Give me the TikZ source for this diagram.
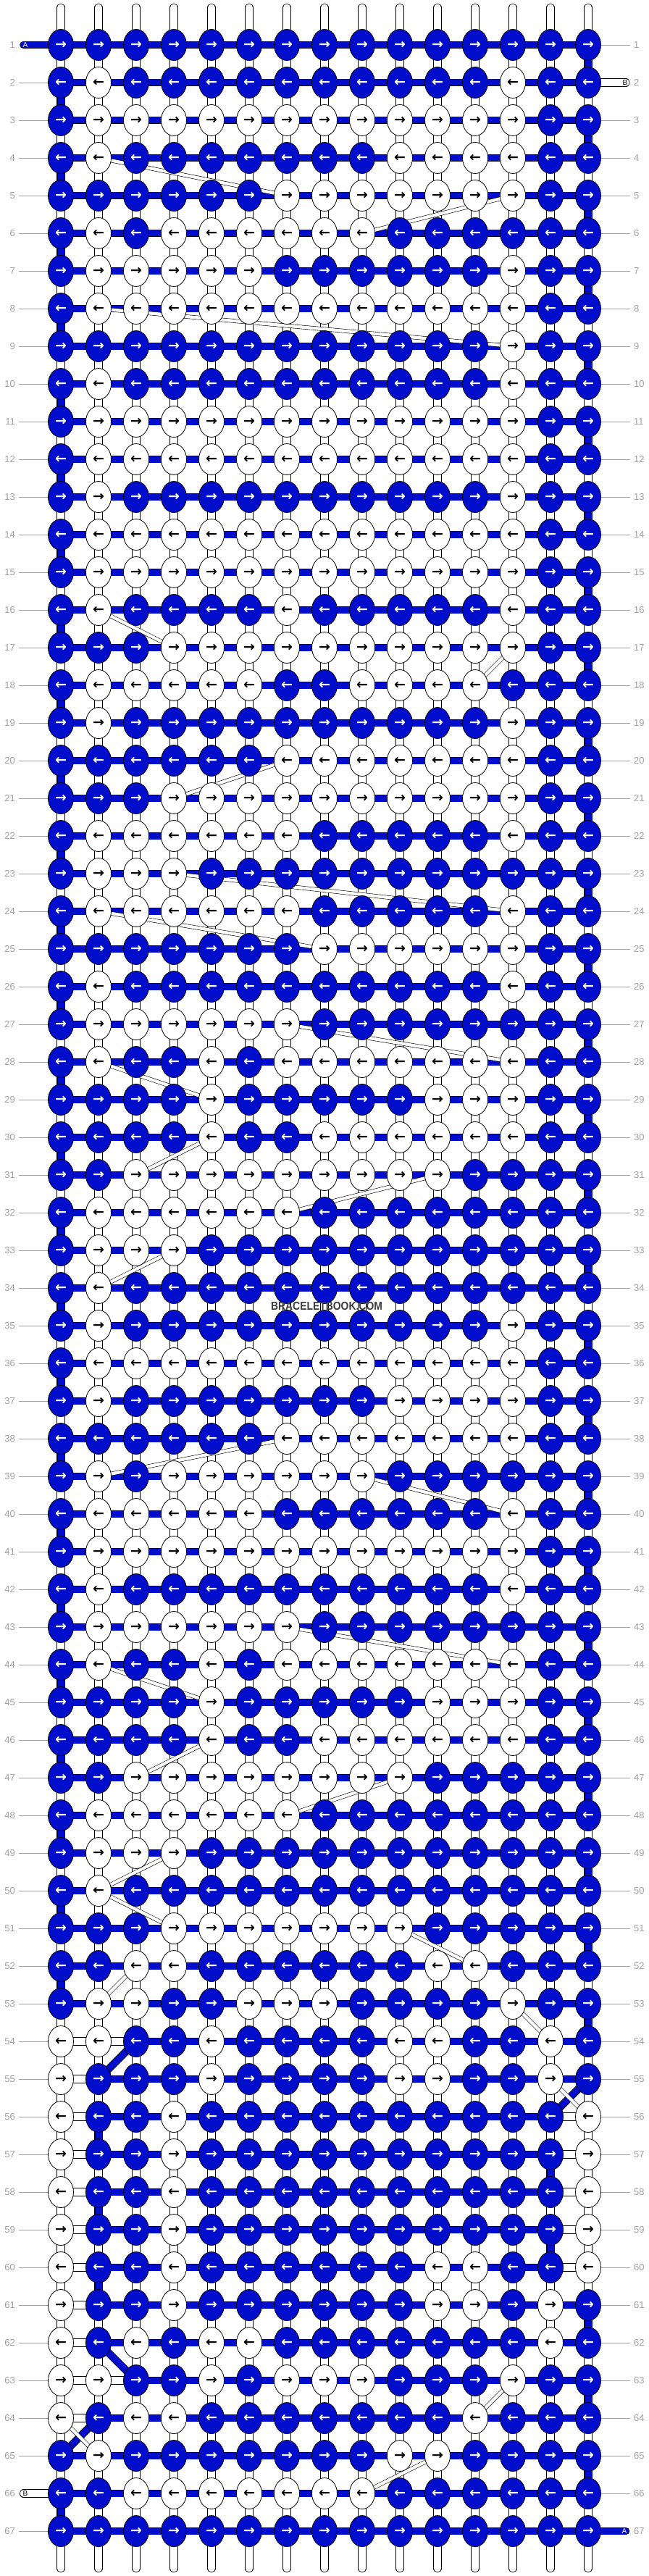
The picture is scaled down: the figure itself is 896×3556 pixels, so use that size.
\documentclass[tikz,border=0pt]{standalone}
\usepackage{fontspec}
\setmainfont{Liberation Sans}
\newfontfamily\arrowfont{DejaVu Sans}
\usetikzlibrary{shapes.geometric,backgrounds}
\definecolor{knotblue}{RGB}{0,14,204}
\definecolor{labelgray}{RGB}{160,160,160}
\definecolor{warpgray}{RGB}{175,175,175}
\definecolor{markgray}{RGB}{60,60,60}

\begin{document}
\begin{tikzpicture}[x=1pt, y=-1pt,
  knot/.style={ellipse, draw=black, line width=0.8pt, minimum width=35pt,
    minimum height=43pt, inner sep=0pt, font=\arrowfont\bfseries\fontsize{19}{19}\selectfont},
  blueknot/.style={knot, fill=knotblue, text=white},
  whiteknot/.style={knot, fill=white, text=black},
  weft/.style={line width=0.8pt, double=knotblue, double distance=9pt},
  warp/.style={line width=0.8pt, double=white, double distance=9.6pt},
  warpcore/.style={line width=0.5pt, draw=warpgray, double=white, double distance=3.4pt},
  cross/.style={line width=0.6pt, double=white, double distance=4.4pt},
  rowlabel/.style={text=labelgray, font=\fontsize{13}{13}\selectfont, inner sep=0pt},
  tick/.style={draw=labelgray, line width=0.7pt},
  tag/.style={font=\fontsize{10}{10}\selectfont, inner sep=0pt}]

\useasboundingbox (0,0) rectangle (896,3556);

% knots, row by row (1 = blue, 0 = white)
\foreach \pat [count=\r] in {
  {1,1,1,1,1,1,1,1,1,1,1,1,1,1,1},
  {1,0,1,1,1,1,1,1,1,1,1,1,0,1,1},
  {1,0,0,0,0,0,0,0,0,0,0,0,0,1,1},
  {1,0,1,1,1,1,1,1,1,0,0,0,0,1,1},
  {1,1,1,1,1,1,0,0,0,0,0,0,0,1,1},
  {1,0,1,0,0,0,0,0,0,1,1,1,1,1,1},
  {1,0,0,0,0,0,1,1,1,1,1,1,0,1,1},
  {1,0,0,0,0,0,0,0,0,0,0,0,0,1,1},
  {1,1,1,1,1,1,1,1,1,1,1,1,0,1,1},
  {1,0,1,1,1,1,1,1,1,1,1,1,0,1,1},
  {1,0,0,0,0,0,0,0,0,0,0,0,0,1,1},
  {1,0,0,0,0,0,0,0,0,0,0,0,0,1,1},
  {1,0,1,1,1,1,1,1,1,1,1,1,0,1,1},
  {1,0,0,0,0,0,0,0,0,0,0,0,0,1,1},
  {1,0,0,0,0,0,0,0,0,0,0,0,0,1,1},
  {1,0,1,1,1,1,0,1,1,1,1,1,0,1,1},
  {1,1,1,0,0,0,0,0,0,0,0,0,0,1,1},
  {1,0,0,0,0,0,1,1,0,0,0,0,1,1,1},
  {1,0,1,1,1,1,1,1,1,1,1,1,0,1,1},
  {1,1,1,1,1,1,0,0,0,0,0,0,0,1,1},
  {1,1,1,0,0,0,0,0,0,0,0,0,0,1,1},
  {1,0,0,0,0,0,0,1,1,1,1,1,0,1,1},
  {1,0,0,0,1,1,1,1,1,1,1,1,1,1,1},
  {1,0,0,0,0,0,0,1,1,1,1,1,0,1,1},
  {1,1,1,1,1,1,1,0,0,0,0,0,0,1,1},
  {1,0,1,1,1,1,1,1,1,1,1,1,0,1,1},
  {1,0,0,0,0,0,0,1,1,1,1,1,1,1,1},
  {1,0,1,1,0,1,0,0,0,0,0,0,0,1,1},
  {1,1,1,1,0,1,1,1,1,1,0,0,0,1,1},
  {1,1,1,1,0,1,1,0,0,0,0,0,0,1,1},
  {1,1,0,0,0,0,0,0,0,0,0,1,1,1,1},
  {1,0,0,0,0,0,0,1,1,1,1,1,1,1,1},
  {1,0,0,0,1,1,1,1,1,1,1,1,1,1,1},
  {1,0,1,1,1,1,1,1,1,1,1,1,1,1,1},
  {1,0,1,1,1,1,1,1,1,1,1,1,0,1,1},
  {1,0,0,0,0,0,0,0,0,0,0,0,0,1,1},
  {1,0,1,1,1,1,1,1,1,0,0,0,0,1,1},
  {1,1,1,1,1,1,0,0,0,0,0,0,0,1,1},
  {1,0,1,0,0,0,0,0,0,1,1,1,1,1,1},
  {1,0,0,0,0,0,1,1,1,1,1,1,0,1,1},
  {1,0,0,0,0,0,0,0,0,0,0,0,0,1,1},
  {1,0,1,1,1,1,1,1,1,1,1,1,0,1,1},
  {1,0,0,0,0,0,0,1,1,1,1,1,1,1,1},
  {1,0,1,1,0,1,0,0,0,0,0,0,0,1,1},
  {1,1,1,1,0,1,1,1,1,1,0,0,0,1,1},
  {1,1,1,1,0,1,1,0,0,0,0,0,0,1,1},
  {1,1,0,0,0,0,0,0,0,0,1,1,1,1,1},
  {1,0,0,0,0,0,0,1,1,1,1,1,1,1,1},
  {1,0,0,0,1,1,1,1,1,1,1,1,1,1,1},
  {1,0,1,1,1,1,1,1,1,1,1,1,1,1,1},
  {1,1,1,0,0,0,0,0,0,0,1,1,1,1,1},
  {1,1,0,0,1,1,1,1,1,1,0,0,1,1,1},
  {1,0,0,1,1,0,0,0,1,1,1,1,0,1,1},
  {0,0,1,1,0,1,1,1,1,0,0,1,1,0,1},
  {0,1,1,1,0,1,1,1,1,0,0,1,1,0,1},
  {0,1,1,0,1,1,1,1,1,1,1,1,1,1,0},
  {0,1,1,0,1,1,1,1,1,1,1,1,1,1,0},
  {0,1,1,0,1,1,1,1,1,1,1,1,1,1,0},
  {0,1,1,0,1,1,1,1,1,1,1,1,1,1,0},
  {0,1,1,0,1,1,1,1,1,1,0,0,1,1,0},
  {0,1,1,0,1,1,1,1,1,1,0,0,1,0,1},
  {0,1,0,1,0,0,1,1,1,1,1,1,1,0,1},
  {0,0,1,1,0,1,0,0,0,1,1,1,0,1,1},
  {0,1,0,0,1,1,1,1,1,1,1,0,1,1,1},
  {1,0,1,1,1,1,1,1,1,0,0,1,1,1,1},
  {1,1,0,0,0,0,0,0,0,1,1,1,1,1,1},
  {1,1,1,1,1,1,1,1,1,1,1,1,1,1,1}}{
  \ifodd\r \def\dir{→}\else \def\dir{←}\fi
  \foreach \v [count=\c] in \pat {
    \ifnum\v=1
      \node[blueknot] (k\r_\c) at ({84+52*(\c-1)},{62+52*(\r-1)}) {\dir};
    \else
      \node[whiteknot] (k\r_\c) at ({84+52*(\c-1)},{62+52*(\r-1)}) {\dir};
    \fi
  }
}

\begin{scope}[on background layer]
  % warp strands
  \foreach \c in {1,...,15} {
    \coordinate (top\c) at ({84+52*(\c-1)},10.5);
    \coordinate (bot\c) at ({84+52*(\c-1)},3545.5);
    \draw[warp, line cap=round] (top\c) -- (k1_\c.center);
    \draw[warpcore, line cap=round] (top\c) -- (k1_\c.center);
    \draw[warp, line cap=round] (k67_\c.center) -- (bot\c);
    \draw[warpcore, line cap=round] (k67_\c.center) -- (bot\c);
    \foreach \r in {1,...,66} {
      \pgfmathtruncatemacro\rnext{\r+1}
      \draw[warp] (k\r_\c.center) -- (k\rnext_\c.center);
      \draw[warpcore] (k\r_\c.center) -- (k\rnext_\c.center);
    }
  }
  % weft
  \foreach \r in {1,...,53,65,66,67} {
    \foreach \c in {1,...,14} {
      \pgfmathtruncatemacro\cnext{\c+1}
      \draw[weft] (k\r_\c.center) -- (k\r_\cnext.center);
    }
  }
  \foreach \r/\lo/\hi in {54/3/15,55/2/15,56/2/14,57/2/14,58/2/14,59/2/14,
                          60/2/14,61/2/15,62/2/15,63/3/15,64/2/15} {
    \foreach \c in {1,...,14} {
      \pgfmathtruncatemacro\cnext{\c+1}
      \ifnum\c<\lo
        \draw[warp] (k\r_\c.center) -- (k\r_\cnext.center);
      \else\ifnum\cnext>\hi
        \draw[warp] (k\r_\c.center) -- (k\r_\cnext.center);
      \else
        \draw[weft] (k\r_\c.center) -- (k\r_\cnext.center);
      \fi\fi
    }
  }
  % turns at the ends of the rows
  \foreach \r/\c in {2/1,4/1,6/1,8/1,10/1,12/1,14/1,16/1,18/1,20/1,22/1,24/1,
      26/1,28/1,30/1,32/1,34/1,36/1,38/1,40/1,42/1,44/1,46/1,48/1,50/1,52/1,
      66/1,1/15,3/15,5/15,7/15,9/15,11/15,13/15,15/15,17/15,19/15,21/15,23/15,
      25/15,27/15,29/15,31/15,33/15,35/15,37/15,39/15,41/15,43/15,45/15,47/15,
      49/15,51/15,53/15,61/15,63/15,65/15,56/2,58/2,60/2,57/14,59/14} {
    \pgfmathtruncatemacro\rnext{\r+1}
    \draw[weft] (k\r_\c.center) -- (k\rnext_\c.center);
  }
  \draw[weft] (k54_3.center) -- (k55_2.center);
  \draw[weft] (k55_15.center) -- (k56_14.center);
  \draw[weft] (k62_2.center) -- (k63_3.center);
  \draw[weft] (k64_2.center) -- (k65_1.center);
  % crossings
  \foreach \a/\b in {4_2/5_7,5_13/6_9,8_2/9_13,16_2/17_4,17_13/18_12,20_7/21_4,
      23_4/24_13,24_2/25_8,27_7/28_13,28_2/29_5,30_5/31_3,31_11/32_7,33_4/34_2,
      38_7/39_2,39_9/40_13,43_7/44_13,44_2/45_5,46_5/47_3,47_10/48_7,49_4/50_2,
      50_2/51_4,51_10/52_12,52_3/53_2,53_13/54_14,55_14/56_15,63_13/64_12,
      64_1/65_2,65_11/66_9}
    \draw[cross] (k\a.center) -- (k\b.center);
  % thread ends
  \coordinate (endA1) at (32.5,62);
  \coordinate (endB1) at (864,114);
  \coordinate (endB2) at (32.5,3442);
  \coordinate (endA2) at (864,3494);
  \draw[weft, line cap=round] (endA1) -- (k1_1.center);
  \draw[warp, line cap=round] (k2_15.center) -- (endB1);
  \draw[warp, line cap=round] (endB2) -- (k66_1.center);
  \draw[weft, line cap=round] (k67_15.center) -- (endA2);
\end{scope}

\node[tag, text=white] at (35,62) {A};
\node[tag] at (863,114) {B};
\node[tag] at (35,3442) {B};
\node[tag, text=white] at (862,3494) {A};

% row numbers
\foreach \r in {1,...,67} {
  \node[rowlabel, anchor=east] (ll\r) at (21,{62+52*(\r-1)}) {\r};
  \node[rowlabel, anchor=west] (rl\r) at (875,{62+52*(\r-1)}) {\r};
}
\foreach \r in {2,...,65,67}
  \draw[tick, shorten <=5pt] (ll\r) -- (k\r_1);
\foreach \r in {1,3,4,...,66}
  \draw[tick, shorten >=5pt] (k\r_15) -- (rl\r);

\node[text=markgray, font=\bfseries\fontsize{16}{16}\selectfont, inner sep=0pt]
  (mark) at (451,1803) {\scalebox{0.87}[1]{BRACELETBOOK.COM}};
\end{tikzpicture}
\end{document}
